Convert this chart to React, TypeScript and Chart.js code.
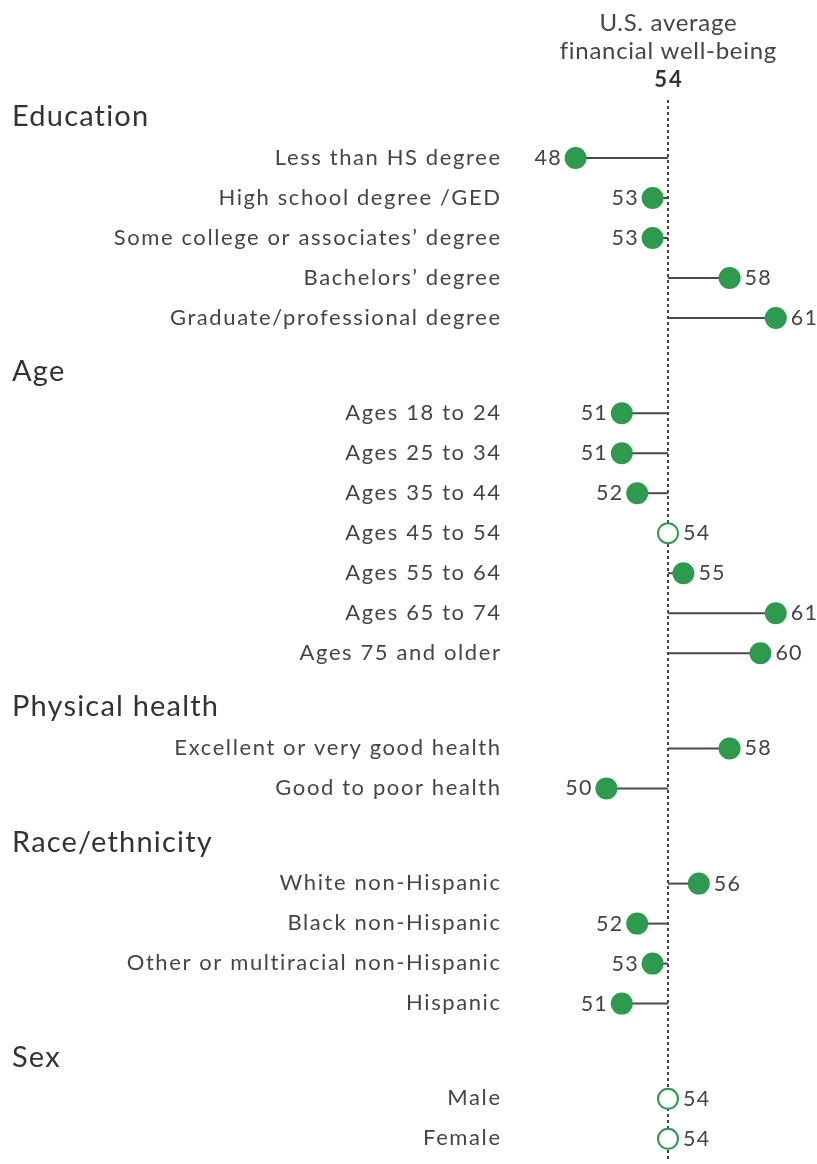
import React, { useEffect, useRef } from "react";
import { Chart, registerables } from "chart.js";

Chart.register(...registerables);

const averageValue = 54;
const averageTitle = ["U.S. average", "financial well-being"];

const groupTitles = ["Education", "Age", "Physical health", "Race/ethnicity", "Sex"];

const educationLabels = [
  "Less than HS degree",
  "High school degree /GED",
  "Some college or associates’ degree",
  "Bachelors’ degree",
  "Graduate/professional degree",
];
const educationValues = [48, 53, 53, 58, 61];

const ageLabels = [
  "Ages 18 to 24",
  "Ages 25 to 34",
  "Ages 35 to 44",
  "Ages 45 to 54",
  "Ages 55 to 64",
  "Ages 65 to 74",
  "Ages 75 and older",
];
const ageValues = [51, 51, 52, 54, 55, 61, 60];

const healthLabels = ["Excellent or very good health", "Good to poor health"];
const healthValues = [58, 50];

const raceLabels = [
  "White non-Hispanic",
  "Black non-Hispanic",
  "Other or multiracial non-Hispanic",
  "Hispanic",
];
const raceValues = [56, 52, 53, 51];

const sexLabels = ["Male", "Female"];
const sexValues = [54, 54];

const groupLabels = [educationLabels, ageLabels, healthLabels, raceLabels, sexLabels];
const groupValues = [educationValues, ageValues, healthValues, raceValues, sexValues];

const GREEN = "#2e9a4e";
const TEXT = "#454545";
const FONT = "Lato, 'Open Sans', sans-serif";

type Row = { label: string; value: number | null; pos: number; header: boolean };

function buildRows(): Row[] {
  const rows: Row[] = [];
  let pos = 0;
  groupTitles.forEach((title, g) => {
    rows.push({ label: title, value: null, pos, header: true });
    pos += 1.05;
    groupLabels[g].forEach((lab, i) => {
      rows.push({ label: lab, value: groupValues[g][i], pos, header: false });
      pos += 1;
    });
    pos += 0.33;
  });
  return rows;
}

function drawText(ctx: any, text: string, x: number, y: number, align: string, spacing: number) {
  ctx.letterSpacing = `${spacing}px`;
  ctx.textAlign = align;
  const dx = align === "right" ? spacing : align === "center" ? spacing / 2 : 0;
  ctx.fillText(text, x + dx, y);
}

export default function App() {
  const ref = useRef<HTMLCanvasElement | null>(null);

  useEffect(() => {
    if (!ref.current) return;
    const rows = buildRows();
    const items = rows.filter((r) => !r.header);

    const overlay = {
      id: "overlay",
      beforeDatasetsDraw(chart: any) {
        const { ctx, scales } = chart;
        const xs = scales.x;
        const ys = scales.y;
        const ax = xs.getPixelForValue(averageValue);
        ctx.save();
        ctx.strokeStyle = "#444";
        ctx.lineWidth = 2;
        ctx.setLineDash([3, 3]);
        ctx.beginPath();
        ctx.moveTo(ax, 100);
        ctx.lineTo(ax, 1161);
        ctx.stroke();
        ctx.setLineDash([]);
        ctx.strokeStyle = "#4a4a4a";
        ctx.lineWidth = 2;
        items.forEach((r) => {
          if (r.value === null || r.value === averageValue) return;
          const py = ys.getPixelForValue(r.pos);
          ctx.beginPath();
          ctx.moveTo(ax, py);
          ctx.lineTo(xs.getPixelForValue(r.value), py);
          ctx.stroke();
        });
        ctx.restore();
      },
      afterDatasetsDraw(chart: any) {
        const { ctx, scales } = chart;
        const xs = scales.x;
        const ys = scales.y;
        const ax = xs.getPixelForValue(averageValue);
        ctx.save();
        ctx.textBaseline = "alphabetic";
        ctx.fillStyle = TEXT;
        ctx.font = `24px ${FONT}`;
        drawText(ctx, averageTitle[0], ax, 31, "center", 0.7);
        drawText(ctx, averageTitle[1], ax, 59, "center", 0.7);
        ctx.font = `bold 22px ${FONT}`;
        ctx.fillStyle = "#333";
        drawText(ctx, String(averageValue), ax, 87, "center", 2);
        rows.forEach((r) => {
          const py = ys.getPixelForValue(r.pos);
          if (r.header) {
            ctx.font = `29px ${FONT}`;
            ctx.fillStyle = "#333";
            drawText(ctx, r.label, 12, py + 10, "left", 1.2);
          } else {
            ctx.font = `22px ${FONT}`;
            ctx.fillStyle = TEXT;
            drawText(ctx, r.label, 500, py + 6.5, "right", 1.6);
            const v = r.value as number;
            const px = xs.getPixelForValue(v);
            ctx.font = `21.5px ${FONT}`;
            if (v < averageValue) {
              drawText(ctx, String(v), px - 15, py + 7, "right", 1.2);
            } else {
              drawText(ctx, String(v), px + 15, py + 7, "left", 1.2);
            }
          }
        });
        ctx.restore();
      },
    };

    const chart = new Chart(ref.current, {
      type: "scatter",
      data: {
        datasets: [
          {
            data: items.map((r) => ({ x: r.value as number, y: r.pos })),
            pointRadius: 10,
            pointHoverRadius: 10,
            pointBorderWidth: 2,
            pointBackgroundColor: items.map((r) => (r.value === averageValue ? "#ffffff" : GREEN)),
            pointBorderColor: GREEN,
          },
        ],
      },
      options: {
        animation: false,
        responsive: false,
        events: [],
        layout: { autoPadding: false, padding: { left: 529.4, right: 10.4, top: 16, bottom: 3 } },
        plugins: { legend: { display: false }, tooltip: { enabled: false } },
        scales: {
          x: { type: "linear", min: 45, max: 63, display: false },
          y: { type: "linear", min: -2.5, max: 26.125, reverse: true, display: false },
        },
      },
      plugins: [overlay],
    });
    return () => chart.destroy();
  }, []);

  return (
    <div style={{ position: "absolute", left: 0, top: 0, width: 817, height: 1164, background: "#fff" }}>
      <canvas ref={ref} width={817} height={1164} style={{ width: 817, height: 1164, display: "block" }} />
    </div>
  );
}
